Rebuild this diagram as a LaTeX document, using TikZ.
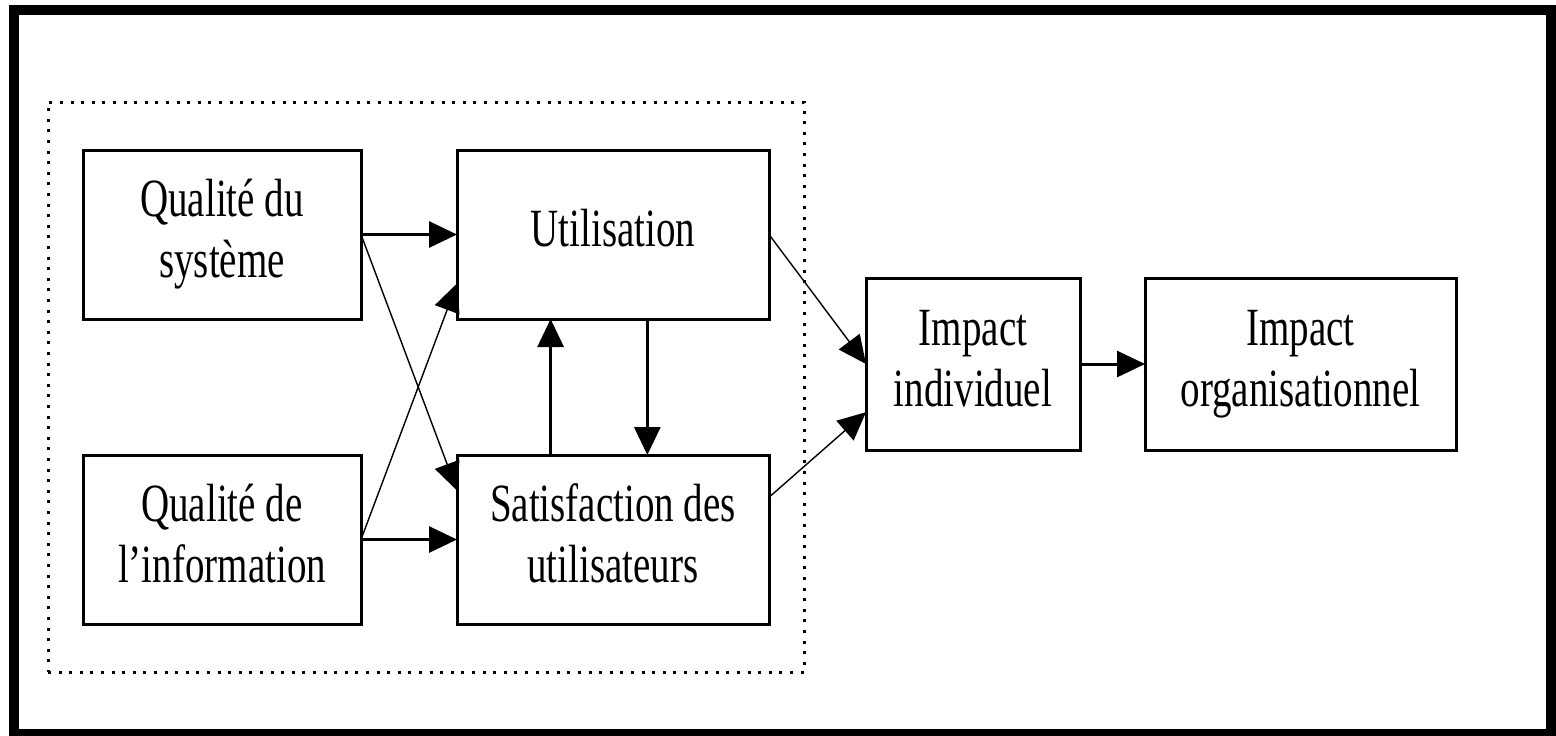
\documentclass[tikz,border=0pt]{standalone}
\usepackage{fontspec}
\setmainfont{Liberation Serif}
\usetikzlibrary{positioning,arrows.meta,fit,backgrounds,calc}

% tall two-line labels inside the boxes
\newcommand{\boxtext}[1]{\scalebox{1}[1.38]{\begin{tabular}{@{}c@{}}#1\end{tabular}}}

\begin{document}
\begin{tikzpicture}[
  x=0.5pt, y=-0.5pt,
  font=\fontsize{19.5}{22}\selectfont,
  box/.style={draw, line width=1.5pt, align=center, inner sep=0pt, outer sep=0pt,
              minimum height=84.5pt},
  grp/.style={draw, line width=1.5pt, dash pattern=on 1.5pt off 3.8pt,
              inner xsep=17.5pt, inner ysep=24pt},
  arr/.style={-{Triangle[length=14pt,width=13pt]}, line width=1.5pt},
  arrt/.style={-{Triangle[length=14pt,width=13pt]}, line width=0.7pt},
]
\useasboundingbox (0,0) rectangle (1556,735);

% ---------- outer frame ----------
\draw[line width=5pt] (14,9.5) rectangle (1551,734);

% ---------- quality and use boxes ----------
\node[box, minimum width=139pt] (qs) at (222,234.5) {\boxtext{Qualité du\\système}};
\node[box, minimum width=139pt, below=68pt of qs] (qi) {\boxtext{Qualité de\\l’information}};
\node[box, minimum width=156pt, right=48pt of qs] (ut) {\boxtext{Utilisation}};
\node[box, minimum width=156pt, right=48pt of qi] (sat) {\boxtext{Satisfaction des\\utilisateurs}};

% dotted group round the first four
\node[grp, fit=(qs)(qi)(ut)(sat)] (g) {};

% ---------- impacts ----------
\coordinate (mid) at ($(ut.east)!0.5!(sat.east)$);
\node[box, minimum width=107pt, minimum height=86pt, right=48.5pt of mid, yshift=11.5pt] (ii)
  {\boxtext{Impact\\individuel}};
\node[box, minimum width=155.5pt, minimum height=86pt, right=32.5pt of ii] (io)
  {\boxtext{Impact\\organisationnel}};

% ---------- links ----------
\draw[arr] (qs) -- (ut);
\draw[arr] (qi) -- (sat);
\draw[arrt] (qs.east) -- ($(sat.north west)!0.21!(sat.south west)$);
\draw[arrt] (qi.east) -- ($(ut.north west)!0.79!(ut.south west)$);

\draw[arr] ($(sat.north west)!0.30!(sat.north east)$) -- ($(ut.south west)!0.30!(ut.south east)$);
\draw[arr] ($(ut.south west)!0.61!(ut.south east)$) -- ($(sat.north west)!0.61!(sat.north east)$);

\draw[arrt] (ut.east) -- (ii.west);
\draw[arrt] ($(sat.north east)!0.25!(sat.south east)$) -- ($(ii.north west)!0.78!(ii.south west)$);

\draw[arr] (ii) -- (io);

\end{tikzpicture}
\end{document}
